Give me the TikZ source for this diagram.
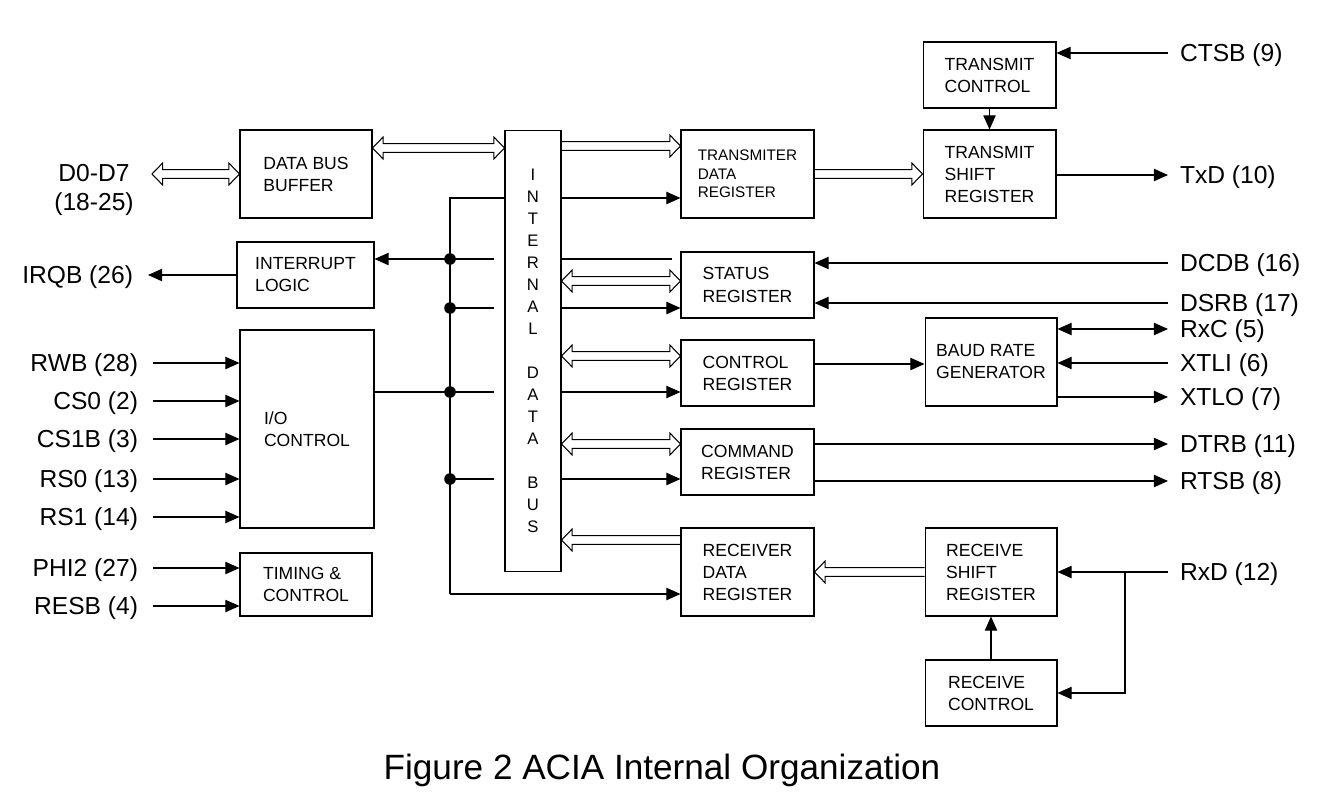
\documentclass[tikz,border=0pt]{standalone}
\usepackage{fontspec}
\setmainfont{Liberation Sans}
\usetikzlibrary{arrows.meta,calc,positioning}

\tikzset{
  blk/.style={draw, line width=0.6pt, align=left, inner sep=0pt, font=\fontsize{10}{12.5}\selectfont},
  shortbox/.style={blk, minimum width=2.66cm, minimum height=1.32cm},
  tallbox/.style={blk, minimum width=2.66cm, minimum height=1.76cm},
  pin/.style={inner sep=0pt, text height=10pt, text depth=0pt, font=\fontsize{14}{16}\selectfont},
  lpin/.style={pin, anchor=east, outer xsep=0.3cm},
  rpin/.style={pin, anchor=west, outer xsep=0.24cm},
  wire/.style={line width=0.6pt},
  sig/.style={wire, -{Triangle[length=8pt,width=7pt]}},
  sigboth/.style={wire, {Triangle[length=8pt,width=7pt]}-{Triangle[length=8pt,width=7pt]}},
  % hollow bus arrow, head at the target
  busone/.style={wire, to path={let \p1=(\tikztostart), \p2=(\tikztotarget),
      \n1={ifthenelse(\x2>\x1,1,-1)} in
      (\x1,\y1+2.5pt) -- (\x2-6pt*\n1,\y1+2.5pt) -- (\x2-6pt*\n1,\y1+6.2pt) -- (\x2,\y1)
      -- (\x2-6pt*\n1,\y1-6.2pt) -- (\x2-6pt*\n1,\y1-2.5pt) -- (\x1,\y1-2.5pt)}},
  % hollow bus arrow, heads at both ends
  busboth/.style={wire, to path={let \p1=(\tikztostart), \p2=(\tikztotarget),
      \n1={ifthenelse(\x2>\x1,1,-1)} in
      (\x1,\y1) -- (\x1+6pt*\n1,\y1+6.2pt) -- (\x1+6pt*\n1,\y1+2.5pt) -- (\x2-6pt*\n1,\y1+2.5pt)
      -- (\x2-6pt*\n1,\y1+6.2pt) -- (\x2,\y1) -- (\x2-6pt*\n1,\y1-6.2pt) -- (\x2-6pt*\n1,\y1-2.5pt)
      -- (\x1+6pt*\n1,\y1-2.5pt) -- (\x1+6pt*\n1,\y1-6.2pt) -- cycle}},
}

\begin{document}
\begin{tikzpicture}[x=0.02cm, y=-0.02cm]
    \useasboundingbox (0,0) rectangle (1324,808);

    % Blocks of the transmitter side
    \node[shortbox] (tc) at (989.5,75) {TRANSMIT\\CONTROL};
    \node[tallbox] (tsr) at (989.5,174) {TRANSMIT\\SHIFT\\REGISTER};
    \node[tallbox, font=\fontsize{8.7}{10.5}\selectfont] (tdr) at (747.5,174) {TRANSMITER\\DATA\\REGISTER};

    % Blocks on the processor side
    \node[blk, minimum width=2.64cm, minimum height=1.76cm] (dbb) at (306,174) {DATA BUS\\BUFFER};
    \node[blk, minimum width=2.74cm, minimum height=1.32cm] (irq) at (305.5,275) {INTERRUPT\\LOGIC};
    \node[blk, minimum width=2.68cm, minimum height=3.96cm] (ioc) at (307,429) {I/O\\CONTROL};
    \node[blk, minimum width=2.64cm, minimum height=1.26cm] (tim) at (306,584.5) {TIMING \&\\CONTROL};

    % The internal data bus
    \node[blk, align=center, minimum width=1.12cm, minimum height=8.84cm,
          font=\fontsize{9.5}{12.5}\selectfont] (bus) at (533,351)
        {I\\N\\T\\E\\R\\N\\A\\L\\[12.5pt]D\\A\\T\\A\\[12.5pt]B\\U\\S};

    % Registers
    \node[shortbox, font=\fontsize{10}{13.5}\selectfont] (stat) at (747.5,285) {STATUS\\REGISTER};
    \node[shortbox] (ctrl) at (747.5,373) {CONTROL\\REGISTER};
    \node[shortbox] (cmd) at (747.5,462) {COMMAND\\REGISTER};
    \node[tallbox] (rdr) at (747.5,572) {RECEIVER\\DATA\\REGISTER};
    \node[blk, minimum width=2.64cm, minimum height=1.76cm] (brg) at (991,362) {BAUD RATE\\GENERATOR};

    % Blocks of the receiver side
    \node[blk, minimum width=2.64cm, minimum height=1.76cm] (rsr) at (991,572) {RECEIVE\\SHIFT\\REGISTER};
    \node[blk, minimum width=2.64cm, minimum height=1.32cm] (rc) at (991,693) {RECEIVE\\CONTROL};

    % Rows and taps
    \coordinate (dend) at (152,174);
    \coordinate (dbbrow) at (0,148);
    \coordinate (txrow) at (0,146);
    \coordinate (strow) at (0,281);
    \coordinate (ctrow) at (0,356);
    \coordinate (cmrow) at (0,444);
    \coordinate (rxrow) at (0,540);
    \coordinate (bdrow) at (0,364);
    \coordinate (top) at (450,198);
    \coordinate (bot) at (450,594);
    \coordinate (bl) at (494,0);
    \coordinate (br) at (672,0);
    \coordinate (d1) at (450,259);
    \coordinate (d2) at (450,308);
    \coordinate (d3) at (450,392);
    \coordinate (d4) at (450,479);
    \coordinate (rxsplit) at (1125,572);

    % Hollow bus arrows
    \draw[busboth] (dend) to (dbb.west);
    \draw[busboth] (dbb.east |- dbbrow) to (bus.west |- dbbrow);
    \draw[busone] (bus.east |- txrow) to (tdr.west |- txrow);
    \draw[busone] (tdr.east) to (tsr.west);
    \draw[busboth] (bus.east |- strow) to (stat.west |- strow);
    \draw[busboth] (bus.east |- ctrow) to (ctrl.west |- ctrow);
    \draw[busboth] (bus.east |- cmrow) to (cmd.west |- cmrow);
    \draw[busone] (rdr.west |- rxrow) to (bus.east |- rxrow);
    \draw[busone] (rsr.west) to (rdr.east);

    % Control lines round the bus
    \draw[wire] (bus.west |- top) -- (top) -- (bot);
    \draw[sig] (bus.east |- top) -- (tdr.west |- top);
    \draw[sig] (bot) -- (rdr.west |- bot);
    \foreach \d in {d1,d2,d3,d4} {
        \fill (\d) circle (3.3pt);
        \draw[wire] (\d) -- (bl |- \d);
    }
    \draw[sig] (d1) -- (irq.east |- d1);
    \draw[wire] (bus.east |- d1) -- (br |- d1);
    \draw[sig] (bus.east |- d2) -- (stat.west |- d2);
    \draw[wire] (ioc.east |- d3) -- (d3);
    \draw[sig] (bus.east |- d3) -- (ctrl.west |- d3);
    \draw[sig] (bus.east |- d4) -- (cmd.west |- d4);

    % Inner connections
    \draw[sig] (tc) -- (tsr);
    \draw[sig] (ctrl.east |- bdrow) -- (brg.west |- bdrow);
    \draw[sig] (rc) -- (rsr);

    % Left pins
    \node[align=center, font=\fontsize{14}{17}\selectfont] (dlab) at (94,190) {D0-D7\\(18-25)};
    \node[lpin] (irqb) at (148,275) {IRQB (26)};
    \draw[sig] (irq.west |- irqb) -- (irqb.east);
    \foreach \nm/\txt/\yy/\dst in {rwb/{RWB (28)}/363/ioc, cso/{CS0 (2)}/401/ioc,
            csb/{CS1B (3)}/439/ioc, rso/{RS0 (13)}/479/ioc, rsi/{RS1 (14)}/517/ioc,
            phi/{PHI2 (27)}/568/tim, resb/{RESB (4)}/606/tim} {
        \node[lpin] (\nm) at (153,\yy) {\txt};
        \draw[sig] (\nm.east) -- (\dst.west |- \nm.east);
    }

    % Right pins
    \node[rpin] (ctsb) at (1168,53) {CTSB (9)};
    \node[rpin] (txd) at (1168,175) {TxD (10)};
    \node[rpin] (dcdb) at (1168,263) {DCDB (16)};
    \node[rpin] (dsrb) at (1168,303) {DSRB (17)};
    \node[rpin] (rxc) at (1168,329) {RxC (5)};
    \node[rpin] (xtli) at (1168,363) {XTLI (6)};
    \node[rpin] (xtlo) at (1168,397) {XTLO (7)};
    \node[rpin] (dtrb) at (1168,444) {DTRB (11)};
    \node[rpin] (rtsb) at (1168,481) {RTSB (8)};
    \node[rpin] (rxd) at (1168,572) {RxD (12)};

    \draw[sig] (ctsb.west) -- (tc.east |- ctsb);
    \draw[sig] (tsr.east |- txd) -- (txd.west);
    \draw[sig] (dcdb.west) -- (stat.east |- dcdb);
    \draw[sig] (dsrb.west) -- (stat.east |- dsrb);
    \draw[sigboth] (brg.east |- rxc) -- (rxc.west);
    \draw[sig] (xtli.west) -- (brg.east |- xtli);
    \draw[sig] (brg.east |- xtlo) -- (xtlo.west);
    \draw[sig] (cmd.east |- dtrb) -- (dtrb.west);
    \draw[sig] (cmd.east |- rtsb) -- (rtsb.west);
    \draw[sig] (rxd.west) -- (rsr.east |- rxd);
    \draw[sig] (rxsplit) |- (rc.east);

    % Caption
    \node[font=\fontsize{20}{22}\selectfont] (caption) at (662,770) {Figure 2 ACIA Internal Organization};
\end{tikzpicture}
\end{document}
